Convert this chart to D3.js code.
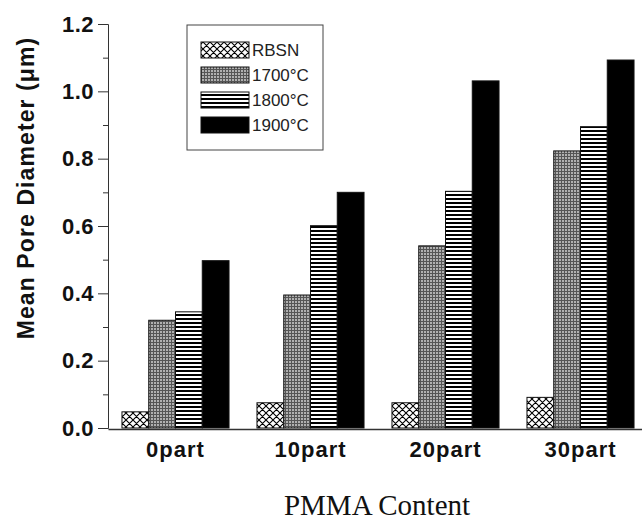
<!DOCTYPE html>
<html><head><meta charset="utf-8">
<script src="https://cdn.jsdelivr.net/npm/d3@7"></script>
<style>body{margin:0;background:#fff}svg{display:block}</style>
</head><body>
<svg id="c" width="642" height="520"></svg>
<script>
const categories = ["0part", "10part", "20part", "30part"];
const seriesNames = ["RBSN", "1700°C", "1800°C", "1900°C"];
const rbsn = [0.048, 0.075, 0.075, 0.091];
const t1700 = [0.320, 0.395, 0.541, 0.823];
const t1800 = [0.345, 0.601, 0.703, 0.895];
const t1900 = [0.497, 0.700, 1.031, 1.093];
const yTicks = [0.0, 0.2, 0.4, 0.6, 0.8, 1.0, 1.2];
const yMinorTicks = [0.1, 0.3, 0.5, 0.7, 0.9, 1.1];
const seriesValues = [rbsn, t1700, t1800, t1900];

const svg = d3.select("#c");
const defs = svg.append("defs");
// crosshatch
const p1 = defs.append("pattern").attr("id","pat0").attr("patternUnits","userSpaceOnUse").attr("width",7).attr("height",7);
p1.append("rect").attr("width",7).attr("height",7).attr("fill","#fff");
p1.append("path").attr("d","M0,0L7,7M7,0L0,7M-1,6L1,8M6,-1L8,1M-1,1L1,-1M6,8L8,6").attr("stroke","#000").attr("stroke-width",1.1);
// grid grey
const p2 = defs.append("pattern").attr("id","pat1").attr("patternUnits","userSpaceOnUse").attr("width",3).attr("height",3);
p2.append("rect").attr("width",3).attr("height",3).attr("fill","#b0b0b0");
p2.append("path").attr("d","M0,0.5H3M0.5,0V3").attr("stroke","#555").attr("stroke-width",1);
// horizontal lines
const p3 = defs.append("pattern").attr("id","pat2").attr("patternUnits","userSpaceOnUse").attr("width",4).attr("height",4);
p3.append("rect").attr("width",4).attr("height",4).attr("fill","#fff");
p3.append("rect").attr("y",2).attr("width",4).attr("height",2).attr("fill","#000");
const fills = ["url(#pat0)","url(#pat1)","url(#pat2)","#000"];

const x = d3.scaleBand().domain(categories).range([108, 648]).paddingInner(0.207).paddingOuter(0.1035);
const xs = d3.scaleBand().domain(d3.range(seriesNames.length)).range([0, x.bandwidth()]);
const y = d3.scaleLinear().domain([0, 1.2]).range([428, 24]);

// bars
categories.forEach((c, ci) => {
  seriesValues.forEach((vals, si) => {
    svg.append("rect")
      .attr("x", x(c) + xs(si))
      .attr("y", y(vals[ci]))
      .attr("width", xs.bandwidth())
      .attr("height", y(0) - y(vals[ci]))
      .attr("fill", fills[si])
      .attr("stroke", "#111").attr("stroke-width", 1);
  });
});

// y axis
const yAxis = svg.append("g").attr("transform","translate(108,0)")
  .call(d3.axisLeft(y).tickValues(yTicks).tickFormat(d3.format(".1f")).tickSize(10).tickPadding(4));
yAxis.select(".domain").attr("stroke","#333");
yAxis.selectAll(".tick line").attr("stroke","#333");
yAxis.selectAll("text").attr("font-family","Liberation Sans, Arial, sans-serif").attr("font-weight","bold").attr("font-size",22).attr("letter-spacing",0.5).attr("fill","#111");
const yMinor = svg.append("g").attr("transform","translate(108,0)")
  .call(d3.axisLeft(y).tickValues(yMinorTicks).tickSize(5).tickFormat(""));
yMinor.select(".domain").remove();
yMinor.selectAll(".tick line").attr("stroke","#333");

// x axis
const xAxis = svg.append("g").attr("transform","translate(0,429)")
  .call(d3.axisBottom(x).tickSize(0).tickPadding(12));
xAxis.select(".domain").attr("stroke","#333").attr("stroke-width",1.5);
xAxis.selectAll("text").attr("font-family","Liberation Sans, Arial, sans-serif").attr("font-weight","bold").attr("font-size",22).attr("letter-spacing",1).attr("fill","#111");

// axis titles
svg.append("text").attr("transform","translate(34,188) rotate(-90)")
  .attr("text-anchor","middle").attr("font-family","Liberation Sans, Arial, sans-serif")
  .attr("font-weight","bold").attr("font-size",23).attr("letter-spacing",1.1).attr("fill","#111")
  .text("Mean Pore Diameter (μm)");
svg.append("text").attr("x",377).attr("y",515).attr("text-anchor","middle")
  .attr("font-family","Liberation Serif, Times New Roman, serif").attr("font-size",29).attr("fill","#111")
  .text("PMMA Content");

// legend
const lg = svg.append("g");
lg.append("rect").attr("x",187).attr("y",25).attr("width",136).attr("height",125)
  .attr("fill","#fff").attr("stroke","#444").attr("stroke-width",1);
seriesNames.forEach((n, i) => {
  const ty = 42 + i * 25;
  lg.append("rect").attr("x",201).attr("y",ty).attr("width",48).attr("height",16)
    .attr("fill",fills[i]).attr("stroke","#111").attr("stroke-width",1);
  lg.append("text").attr("x",252).attr("y",ty+14).attr("font-family","Liberation Sans, Arial, sans-serif")
    .attr("font-size",17).attr("fill","#222").text(n);
});
</script>
</body></html>
